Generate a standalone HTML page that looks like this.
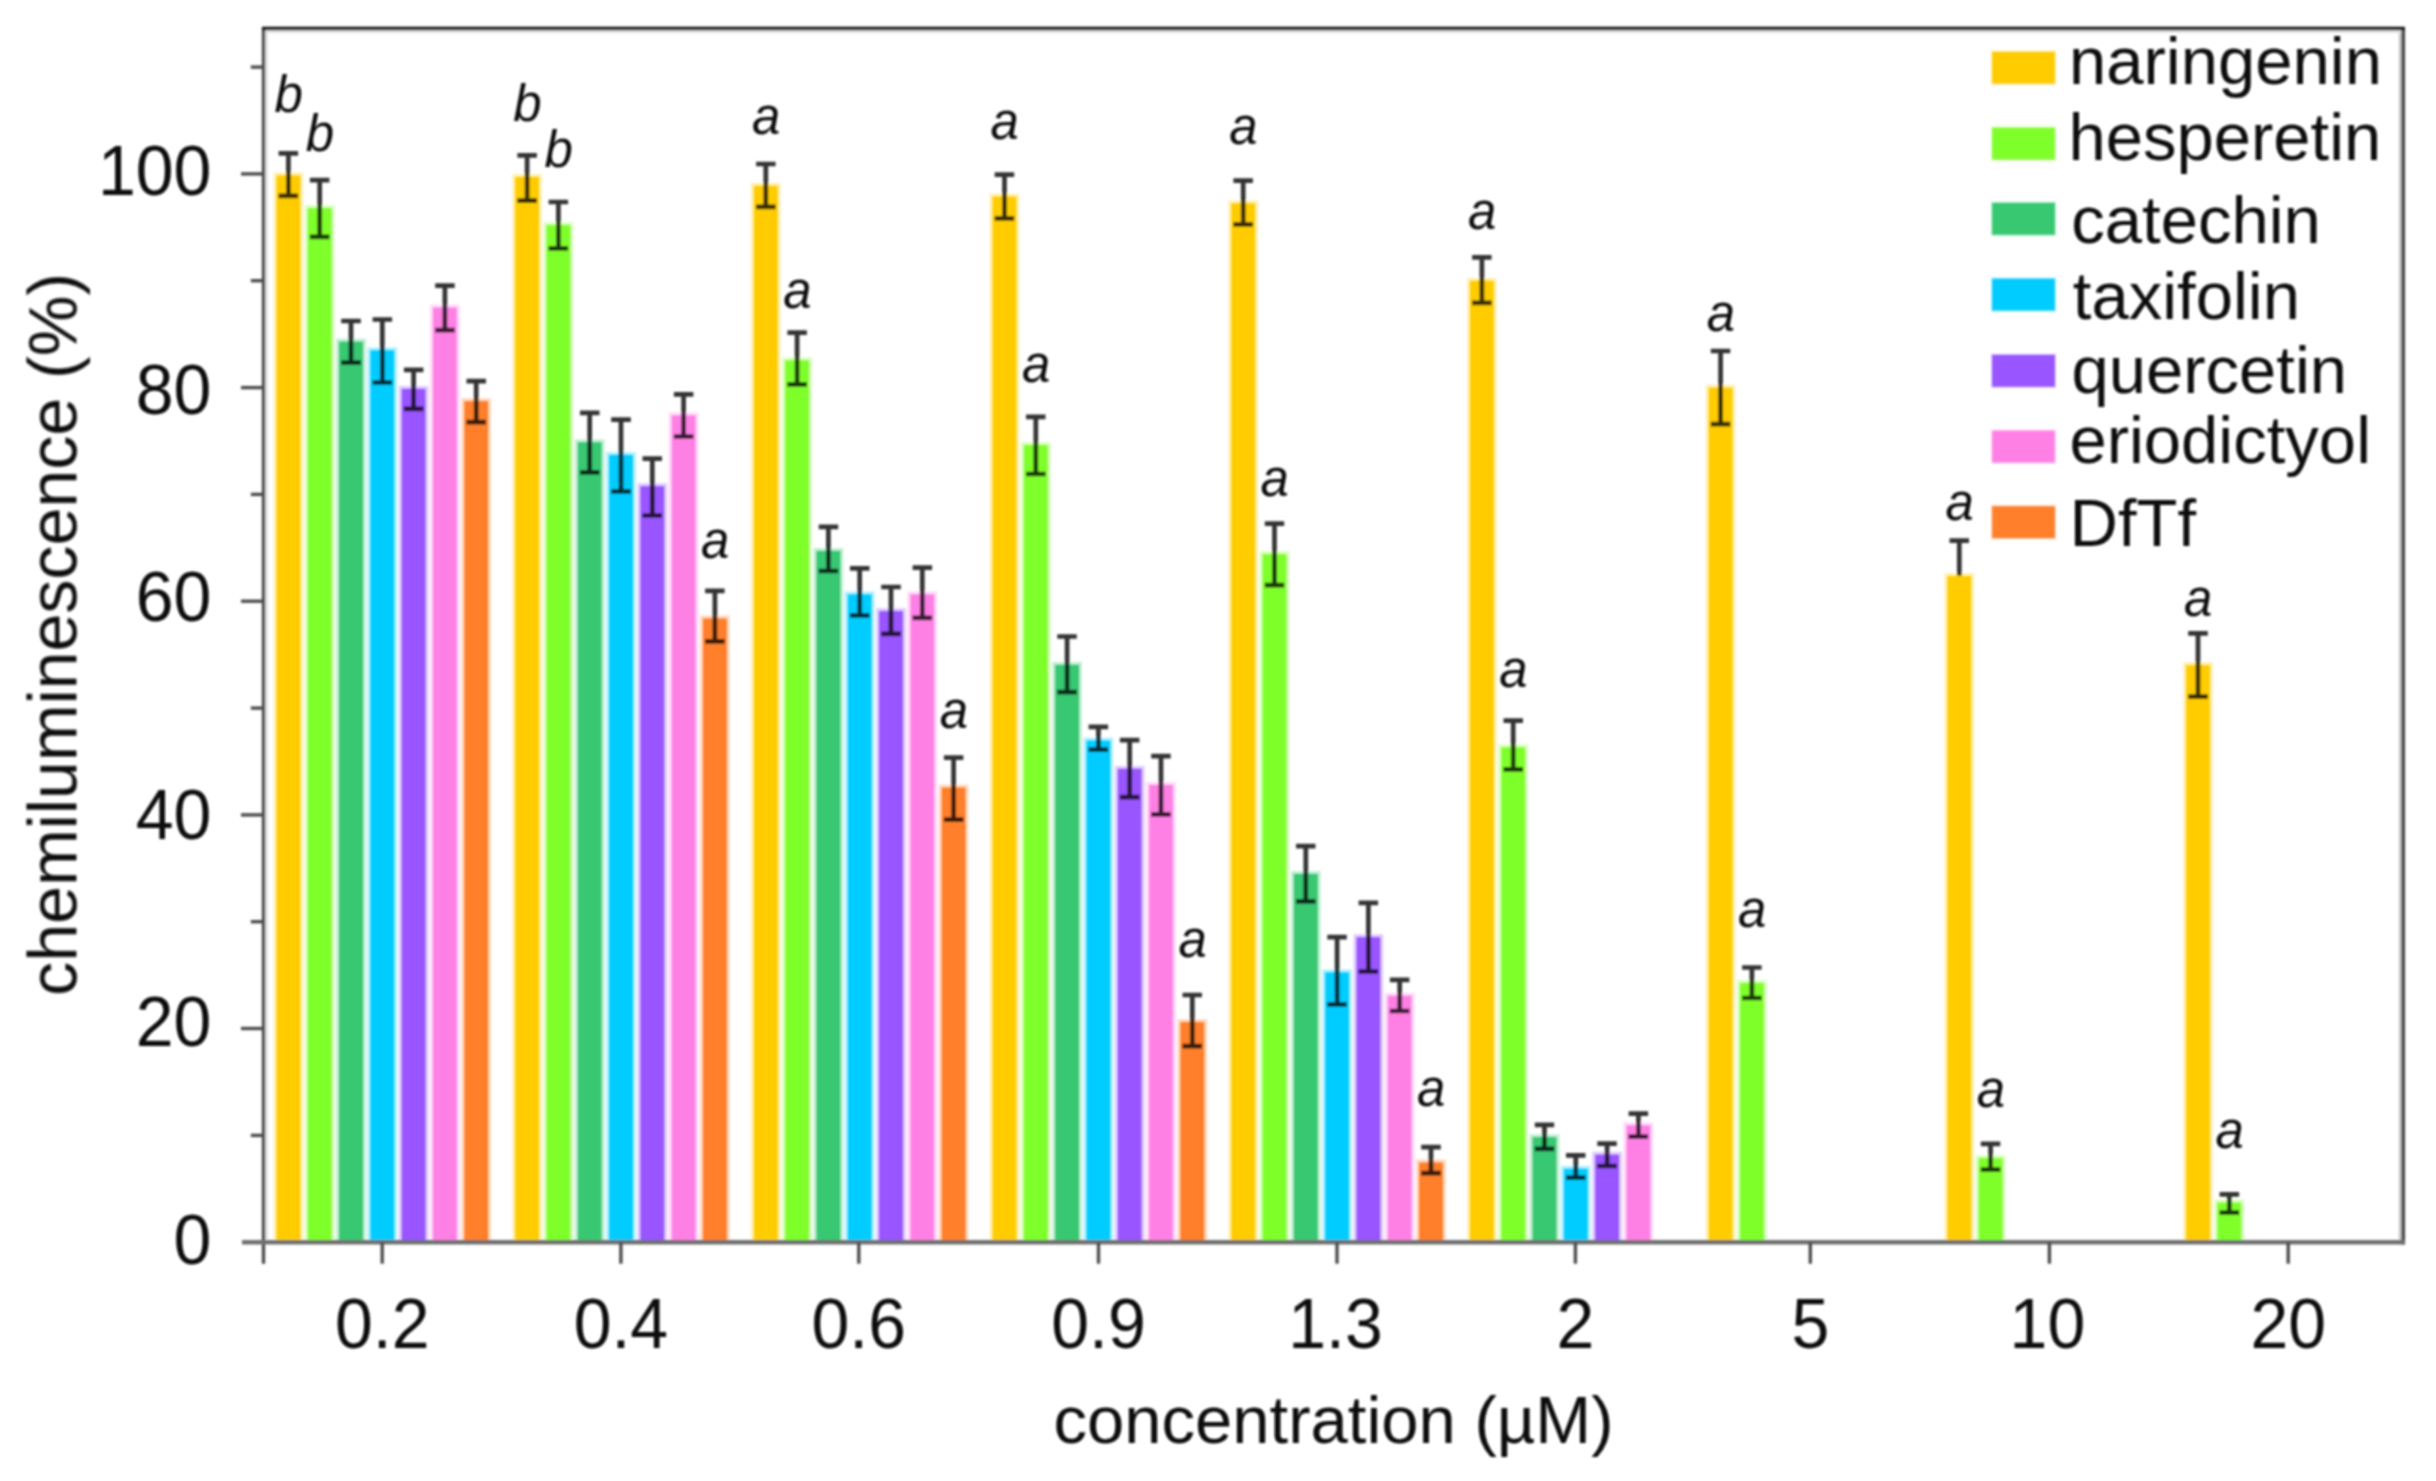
<!DOCTYPE html>
<html lang="en"><head><meta charset="utf-8"><title>chemiluminescence vs concentration</title>
<style>
html,body{margin:0;padding:0;background:#fff;}
body{width:2436px;height:1481px;overflow:hidden;}
svg{display:block;}
text{font-family:"Liberation Sans",sans-serif;fill:#0c0c0c;}
.t{font-size:67px;}
.tk{font-size:68px;}
.s{font-size:51px;font-style:italic;fill:#111;}
.ax{stroke:#4e4e4e;stroke-width:3.4;fill:none;}
.eb{stroke:#050505;stroke-width:4.7;fill:none;stroke-opacity:.8;}
</style></head><body>
<svg width="2436" height="1481" viewBox="0 0 2436 1481">
<defs><filter id="sf" x="-2%" y="-2%" width="104%" height="104%"><feGaussianBlur stdDeviation="1.0"/></filter></defs>
<rect width="2436" height="1481" fill="#fff"/>
<g filter="url(#sf)">
<path d="M266.5 1240.2V31.5H2401.7" fill="none" stroke="#e4e4e4" stroke-width="3"/>
<path d="M2400.2 33.0V1240.2" fill="none" stroke="#cdcdcd" stroke-width="3"/>
<clipPath id="bc"><rect x="0" y="0" width="2436" height="1243.2"/></clipPath>
<g id="bars" clip-path="url(#bc)">
<rect x="276.5" y="175.4" width="23.8" height="1066.8" fill="#ffcc00" stroke="#ffcc00" stroke-opacity=".3" stroke-width="6"/>
<rect x="307.8" y="208.2" width="23.8" height="1034.0" fill="#7fff2a" stroke="#7fff2a" stroke-opacity=".3" stroke-width="6"/>
<rect x="339.1" y="341.7" width="23.8" height="900.5" fill="#37c871" stroke="#37c871" stroke-opacity=".3" stroke-width="6"/>
<rect x="370.4" y="350.3" width="23.8" height="891.9" fill="#00ccff" stroke="#00ccff" stroke-opacity=".3" stroke-width="6"/>
<rect x="401.7" y="388.9" width="23.8" height="853.3" fill="#9955ff" stroke="#9955ff" stroke-opacity=".3" stroke-width="6"/>
<rect x="433.0" y="307.6" width="23.8" height="934.6" fill="#ff80e5" stroke="#ff80e5" stroke-opacity=".3" stroke-width="6"/>
<rect x="464.3" y="401.2" width="23.8" height="841.0" fill="#ff7f2a" stroke="#ff7f2a" stroke-opacity=".3" stroke-width="6"/>
<rect x="515.2" y="177.0" width="23.8" height="1065.2" fill="#ffcc00" stroke="#ffcc00" stroke-opacity=".3" stroke-width="6"/>
<rect x="546.5" y="225.2" width="23.8" height="1017.0" fill="#7fff2a" stroke="#7fff2a" stroke-opacity=".3" stroke-width="6"/>
<rect x="577.8" y="442.3" width="23.8" height="799.9" fill="#37c871" stroke="#37c871" stroke-opacity=".3" stroke-width="6"/>
<rect x="609.1" y="455.0" width="23.8" height="787.2" fill="#00ccff" stroke="#00ccff" stroke-opacity=".3" stroke-width="6"/>
<rect x="640.4" y="486.2" width="23.8" height="756.0" fill="#9955ff" stroke="#9955ff" stroke-opacity=".3" stroke-width="6"/>
<rect x="671.7" y="415.4" width="23.8" height="826.8" fill="#ff80e5" stroke="#ff80e5" stroke-opacity=".3" stroke-width="6"/>
<rect x="703.0" y="618.5" width="23.8" height="623.7" fill="#ff7f2a" stroke="#ff7f2a" stroke-opacity=".3" stroke-width="6"/>
<rect x="753.9" y="185.9" width="23.8" height="1056.3" fill="#ffcc00" stroke="#ffcc00" stroke-opacity=".3" stroke-width="6"/>
<rect x="785.2" y="360.4" width="23.8" height="881.8" fill="#7fff2a" stroke="#7fff2a" stroke-opacity=".3" stroke-width="6"/>
<rect x="816.5" y="551.0" width="23.8" height="691.2" fill="#37c871" stroke="#37c871" stroke-opacity=".3" stroke-width="6"/>
<rect x="847.8" y="594.4" width="23.8" height="647.8" fill="#00ccff" stroke="#00ccff" stroke-opacity=".3" stroke-width="6"/>
<rect x="879.1" y="611.1" width="23.8" height="631.1" fill="#9955ff" stroke="#9955ff" stroke-opacity=".3" stroke-width="6"/>
<rect x="910.4" y="594.4" width="23.8" height="647.8" fill="#ff80e5" stroke="#ff80e5" stroke-opacity=".3" stroke-width="6"/>
<rect x="941.7" y="787.6" width="23.8" height="454.6" fill="#ff7f2a" stroke="#ff7f2a" stroke-opacity=".3" stroke-width="6"/>
<rect x="992.6" y="196.6" width="23.8" height="1045.6" fill="#ffcc00" stroke="#ffcc00" stroke-opacity=".3" stroke-width="6"/>
<rect x="1023.9" y="445.1" width="23.8" height="797.1" fill="#7fff2a" stroke="#7fff2a" stroke-opacity=".3" stroke-width="6"/>
<rect x="1055.2" y="664.9" width="23.8" height="577.3" fill="#37c871" stroke="#37c871" stroke-opacity=".3" stroke-width="6"/>
<rect x="1086.5" y="740.6" width="23.8" height="501.6" fill="#00ccff" stroke="#00ccff" stroke-opacity=".3" stroke-width="6"/>
<rect x="1117.8" y="768.8" width="23.8" height="473.4" fill="#9955ff" stroke="#9955ff" stroke-opacity=".3" stroke-width="6"/>
<rect x="1149.1" y="785.0" width="23.8" height="457.2" fill="#ff80e5" stroke="#ff80e5" stroke-opacity=".3" stroke-width="6"/>
<rect x="1180.4" y="1022.1" width="23.8" height="220.1" fill="#ff7f2a" stroke="#ff7f2a" stroke-opacity=".3" stroke-width="6"/>
<rect x="1231.3" y="203.4" width="23.8" height="1038.8" fill="#ffcc00" stroke="#ffcc00" stroke-opacity=".3" stroke-width="6"/>
<rect x="1262.6" y="554.2" width="23.8" height="688.0" fill="#7fff2a" stroke="#7fff2a" stroke-opacity=".3" stroke-width="6"/>
<rect x="1293.9" y="874.0" width="23.8" height="368.2" fill="#37c871" stroke="#37c871" stroke-opacity=".3" stroke-width="6"/>
<rect x="1325.2" y="972.4" width="23.8" height="269.8" fill="#00ccff" stroke="#00ccff" stroke-opacity=".3" stroke-width="6"/>
<rect x="1356.5" y="937.2" width="23.8" height="305.0" fill="#9955ff" stroke="#9955ff" stroke-opacity=".3" stroke-width="6"/>
<rect x="1387.8" y="995.8" width="23.8" height="246.4" fill="#ff80e5" stroke="#ff80e5" stroke-opacity=".3" stroke-width="6"/>
<rect x="1419.1" y="1162.5" width="23.8" height="79.7" fill="#ff7f2a" stroke="#ff7f2a" stroke-opacity=".3" stroke-width="6"/>
<rect x="1470.0" y="280.9" width="23.8" height="961.3" fill="#ffcc00" stroke="#ffcc00" stroke-opacity=".3" stroke-width="6"/>
<rect x="1501.3" y="747.4" width="23.8" height="494.8" fill="#7fff2a" stroke="#7fff2a" stroke-opacity=".3" stroke-width="6"/>
<rect x="1532.6" y="1137.2" width="23.8" height="105.0" fill="#37c871" stroke="#37c871" stroke-opacity=".3" stroke-width="6"/>
<rect x="1563.9" y="1168.8" width="23.8" height="73.4" fill="#00ccff" stroke="#00ccff" stroke-opacity=".3" stroke-width="6"/>
<rect x="1595.2" y="1154.7" width="23.8" height="87.5" fill="#9955ff" stroke="#9955ff" stroke-opacity=".3" stroke-width="6"/>
<rect x="1626.5" y="1125.4" width="23.8" height="116.8" fill="#ff80e5" stroke="#ff80e5" stroke-opacity=".3" stroke-width="6"/>
<rect x="1708.7" y="387.7" width="23.8" height="854.5" fill="#ffcc00" stroke="#ffcc00" stroke-opacity=".3" stroke-width="6"/>
<rect x="1740.0" y="983.1" width="23.8" height="259.1" fill="#7fff2a" stroke="#7fff2a" stroke-opacity=".3" stroke-width="6"/>
<rect x="1947.4" y="576.0" width="23.8" height="666.2" fill="#ffcc00" stroke="#ffcc00" stroke-opacity=".3" stroke-width="6"/>
<rect x="1978.7" y="1158.2" width="23.8" height="84.0" fill="#7fff2a" stroke="#7fff2a" stroke-opacity=".3" stroke-width="6"/>
<rect x="2186.1" y="665.2" width="23.8" height="577.0" fill="#ffcc00" stroke="#ffcc00" stroke-opacity=".3" stroke-width="6"/>
<rect x="2217.4" y="1202.6" width="23.8" height="39.6" fill="#7fff2a" stroke="#7fff2a" stroke-opacity=".3" stroke-width="6"/>
</g>
<g id="axes">
<line class="ax" x1="263.5" y1="27.0" x2="263.5" y2="1263.7"/>
<line class="ax" x1="2403.2" y1="27.0" x2="2403.2" y2="1244.5" style="stroke-width:3.8"/>
<line class="ax" x1="242.0" y1="1242.2" x2="2404.7" y2="1242.2" style="stroke:#707070;stroke-width:4.6"/>
<line class="ax" x1="262.0" y1="28.5" x2="2404.7" y2="28.5" style="stroke:#1c1c1c"/>
<line class="ax" x1="250.8" y1="1135.4" x2="263.5" y2="1135.4"/>
<line class="ax" x1="241.0" y1="1028.5" x2="263.5" y2="1028.5"/>
<line class="ax" x1="250.8" y1="921.7" x2="263.5" y2="921.7"/>
<line class="ax" x1="241.0" y1="814.9" x2="263.5" y2="814.9"/>
<line class="ax" x1="250.8" y1="708.1" x2="263.5" y2="708.1"/>
<line class="ax" x1="241.0" y1="601.2" x2="263.5" y2="601.2"/>
<line class="ax" x1="250.8" y1="494.4" x2="263.5" y2="494.4"/>
<line class="ax" x1="241.0" y1="387.6" x2="263.5" y2="387.6"/>
<line class="ax" x1="250.8" y1="280.7" x2="263.5" y2="280.7"/>
<line class="ax" x1="241.0" y1="173.9" x2="263.5" y2="173.9"/>
<line class="ax" x1="250.8" y1="67.1" x2="263.5" y2="67.1"/>
<line class="ax" x1="382.2" y1="1242.2" x2="382.2" y2="1263.7"/>
<line class="ax" x1="620.9" y1="1242.2" x2="620.9" y2="1263.7"/>
<line class="ax" x1="858.8" y1="1242.2" x2="858.8" y2="1263.7"/>
<line class="ax" x1="1098.5" y1="1242.2" x2="1098.5" y2="1263.7"/>
<line class="ax" x1="1337.0" y1="1242.2" x2="1337.0" y2="1263.7"/>
<line class="ax" x1="1575.4" y1="1242.2" x2="1575.4" y2="1263.7"/>
<line class="ax" x1="1810.3" y1="1242.2" x2="1810.3" y2="1263.7"/>
<line class="ax" x1="2049.4" y1="1242.2" x2="2049.4" y2="1263.7"/>
<line class="ax" x1="2288.2" y1="1242.2" x2="2288.2" y2="1263.7"/>
</g>
<g id="err">
<path class="eb" d="M278.6 153.4H298.1M278.6 195.9H298.1M288.4 153.4V195.9"/>
<path class="eb" d="M309.9 180.1H329.4M309.9 236.9H329.4M319.7 180.1V236.9"/>
<path class="eb" d="M341.2 321.0H360.8M341.2 362.6H360.8M351.0 321.0V362.6"/>
<path class="eb" d="M372.6 319.5H392.1M372.6 382.5H392.1M382.3 319.5V382.5"/>
<path class="eb" d="M403.9 369.8H423.4M403.9 408.8H423.4M413.6 369.8V408.8"/>
<path class="eb" d="M435.2 285.7H454.7M435.2 330.2H454.7M444.9 285.7V330.2"/>
<path class="eb" d="M466.5 381.1H486.0M466.5 422.2H486.0M476.2 381.1V422.2"/>
<path class="eb" d="M517.4 155.4H536.9M517.4 200.6H536.9M527.1 155.4V200.6"/>
<path class="eb" d="M548.6 202.0H568.1M548.6 248.4H568.1M558.4 202.0V248.4"/>
<path class="eb" d="M580.0 412.9H599.5M580.0 472.4H599.5M589.7 412.9V472.4"/>
<path class="eb" d="M611.2 419.7H630.8M611.2 491.3H630.8M621.0 419.7V491.3"/>
<path class="eb" d="M642.5 458.7H662.0M642.5 515.5H662.0M652.3 458.7V515.5"/>
<path class="eb" d="M673.9 394.4H693.4M673.9 436.5H693.4M683.6 394.4V436.5"/>
<path class="eb" d="M705.1 590.8H724.6M705.1 641.4H724.6M714.9 590.8V641.4"/>
<path class="eb" d="M756.1 164.0H775.6M756.1 206.9H775.6M765.8 164.0V206.9"/>
<path class="eb" d="M787.4 332.7H806.9M787.4 384.3H806.9M797.1 332.7V384.3"/>
<path class="eb" d="M818.7 526.9H838.2M818.7 571.0H838.2M828.4 526.9V571.0"/>
<path class="eb" d="M850.0 568.4H869.5M850.0 615.3H869.5M859.7 568.4V615.3"/>
<path class="eb" d="M881.2 587.0H900.8M881.2 633.9H900.8M891.0 587.0V633.9"/>
<path class="eb" d="M912.6 567.7H932.1M912.6 617.9H932.1M922.3 567.7V617.9"/>
<path class="eb" d="M943.9 757.7H963.4M943.9 819.6H963.4M953.6 757.7V819.6"/>
<path class="eb" d="M994.7 174.6H1014.2M994.7 218.4H1014.2M1004.5 174.6V218.4"/>
<path class="eb" d="M1026.0 416.8H1045.5M1026.0 474.0H1045.5M1035.8 416.8V474.0"/>
<path class="eb" d="M1057.3 636.5H1076.8M1057.3 692.2H1076.8M1067.1 636.5V692.2"/>
<path class="eb" d="M1088.6 726.8H1108.1M1088.6 749.6H1108.1M1098.4 726.8V749.6"/>
<path class="eb" d="M1119.9 740.2H1139.4M1119.9 797.2H1139.4M1129.7 740.2V797.2"/>
<path class="eb" d="M1151.2 756.2H1170.7M1151.2 814.3H1170.7M1161.0 756.2V814.3"/>
<path class="eb" d="M1182.5 995.0H1202.0M1182.5 1046.2H1202.0M1192.3 995.0V1046.2"/>
<path class="eb" d="M1233.4 180.6H1252.9M1233.4 224.4H1252.9M1243.2 180.6V224.4"/>
<path class="eb" d="M1264.8 523.7H1284.2M1264.8 585.1H1284.2M1274.5 523.7V585.1"/>
<path class="eb" d="M1296.0 846.2H1315.5M1296.0 901.3H1315.5M1305.8 846.2V901.3"/>
<path class="eb" d="M1327.3 937.2H1346.8M1327.3 1004.4H1346.8M1337.1 937.2V1004.4"/>
<path class="eb" d="M1358.6 902.9H1378.1M1358.6 971.5H1378.1M1368.4 902.9V971.5"/>
<path class="eb" d="M1389.9 979.8H1409.4M1389.9 1011.0H1409.4M1399.7 979.8V1011.0"/>
<path class="eb" d="M1421.2 1147.2H1440.8M1421.2 1173.2H1440.8M1431.0 1147.2V1173.2"/>
<path class="eb" d="M1472.1 257.4H1491.6M1472.1 302.9H1491.6M1481.9 257.4V302.9"/>
<path class="eb" d="M1503.5 720.7H1523.0M1503.5 769.4H1523.0M1513.2 720.7V769.4"/>
<path class="eb" d="M1534.8 1124.8H1554.2M1534.8 1148.9H1554.2M1544.5 1124.8V1148.9"/>
<path class="eb" d="M1566.0 1155.3H1585.5M1566.0 1177.7H1585.5M1575.8 1155.3V1177.7"/>
<path class="eb" d="M1597.3 1143.6H1616.8M1597.3 1166.0H1616.8M1607.1 1143.6V1166.0"/>
<path class="eb" d="M1628.6 1113.7H1648.1M1628.6 1136.7H1648.1M1638.4 1113.7V1136.7"/>
<path class="eb" d="M1710.8 351.0H1730.3M1710.8 424.2H1730.3M1720.6 351.0V424.2"/>
<path class="eb" d="M1742.1 967.5H1761.6M1742.1 998.0H1761.6M1751.9 967.5V998.0"/>
<path class="eb" d="M1949.5 540.7H1969.0M1959.3 540.7V576.0"/>
<path class="eb" d="M1980.8 1143.8H2000.3M1980.8 1169.7H2000.3M1990.6 1143.8V1169.7"/>
<path class="eb" d="M2188.2 633.4H2207.8M2188.2 696.6H2207.8M2198.0 633.4V696.6"/>
<path class="eb" d="M2219.6 1194.4H2239.1M2219.6 1212.7H2239.1M2229.3 1194.4V1212.7"/>
</g>
<g id="letters" text-anchor="middle">
<text class="s" x="288.7" y="112.3">b</text>
<text class="s" x="320.0" y="151.3">b</text>
<text class="s" x="527.4" y="120.5">b</text>
<text class="s" x="558.7" y="166.7">b</text>
<text class="s" x="715.2" y="558.3">a</text>
<text class="s" x="766.1" y="133.6">a</text>
<text class="s" x="797.4" y="308.0">a</text>
<text class="s" x="953.9" y="727.8">a</text>
<text class="s" x="1004.8" y="139.0">a</text>
<text class="s" x="1036.1" y="382.2">a</text>
<text class="s" x="1192.6" y="957.2">a</text>
<text class="s" x="1243.5" y="143.7">a</text>
<text class="s" x="1274.8" y="495.9">a</text>
<text class="s" x="1431.3" y="1106.0">a</text>
<text class="s" x="1482.2" y="228.6">a</text>
<text class="s" x="1513.5" y="686.5">a</text>
<text class="s" x="1720.9" y="331.0">a</text>
<text class="s" x="1752.2" y="926.7">a</text>
<text class="s" x="1959.6" y="519.5">a</text>
<text class="s" x="1990.9" y="1106.5">a</text>
<text class="s" x="2198.3" y="615.6">a</text>
<text class="s" x="2229.6" y="1148.4">a</text>
</g>
<g id="xticklabels" text-anchor="middle">
<text class="tk" transform="translate(382.2 1348.5) scale(1 1.04)">0.2</text>
<text class="tk" transform="translate(620.9 1348.5) scale(1 1.04)">0.4</text>
<text class="tk" transform="translate(858.8 1348.5) scale(1 1.04)">0.6</text>
<text class="tk" transform="translate(1098.5 1348.5) scale(1 1.04)">0.9</text>
<text class="tk" transform="translate(1335.5 1348.5) scale(1 1.04)">1.3</text>
<text class="tk" transform="translate(1575.4 1348.5) scale(1 1.04)">2</text>
<text class="tk" transform="translate(1810.3 1348.5) scale(1 1.04)">5</text>
<text class="tk" transform="translate(2047.4 1348.5) scale(1 1.04)">10</text>
<text class="tk" transform="translate(2288.2 1348.5) scale(1 1.04)">20</text>
</g>
<g id="yticklabels" text-anchor="end">
<text class="tk" transform="translate(211.4 194.8) scale(1 1.04)">100</text>
<text class="tk" transform="translate(211.4 413.8) scale(1 1.04)">80</text>
<text class="tk" transform="translate(211.4 621.1) scale(1 1.04)">60</text>
<text class="tk" transform="translate(211.4 839.3) scale(1 1.04)">40</text>
<text class="tk" transform="translate(211.4 1046.3) scale(1 1.04)">20</text>
<text class="tk" transform="translate(211.4 1264.3) scale(1 1.04)">0</text>
</g>
<text class="t" x="1333.5" y="1442.9" text-anchor="middle">concentration (µM)</text>
<text class="t" style="font-size:68.1px" transform="translate(76.4 634.4) rotate(-90)" text-anchor="middle">chemiluminescence (%)</text>
<g id="legend">
<rect x="1992.3" y="51.9" width="62.4" height="31.6" fill="#ffcc00" stroke="#ffcc00" stroke-opacity=".35" stroke-width="2.6"/>
<text class="t" x="2069.0" y="84.2">naringenin</text>
<rect x="1992.3" y="127.8" width="62.4" height="31.6" fill="#7fff2a" stroke="#7fff2a" stroke-opacity=".35" stroke-width="2.6"/>
<text class="t" x="2068.5" y="160.4">hesperetin</text>
<rect x="1992.3" y="203.0" width="62.4" height="31.6" fill="#37c871" stroke="#37c871" stroke-opacity=".35" stroke-width="2.6"/>
<text class="t" x="2071.3" y="242.8">catechin</text>
<rect x="1992.3" y="278.8" width="62.4" height="31.6" fill="#00ccff" stroke="#00ccff" stroke-opacity=".35" stroke-width="2.6"/>
<text class="t" x="2072.8" y="318.8">taxifolin</text>
<rect x="1992.3" y="355.0" width="62.4" height="31.6" fill="#9955ff" stroke="#9955ff" stroke-opacity=".35" stroke-width="2.6"/>
<text class="t" x="2071.5" y="392.7">quercetin</text>
<rect x="1992.3" y="430.8" width="62.4" height="31.6" fill="#ff80e5" stroke="#ff80e5" stroke-opacity=".35" stroke-width="2.6"/>
<text class="t" x="2069.4" y="462.6">eriodictyol</text>
<rect x="1992.3" y="506.4" width="62.4" height="31.6" fill="#ff7f2a" stroke="#ff7f2a" stroke-opacity=".35" stroke-width="2.6"/>
<text class="t" x="2069.5" y="546.1">DfTf</text>
</g>
</g>
</svg>
</body></html>
